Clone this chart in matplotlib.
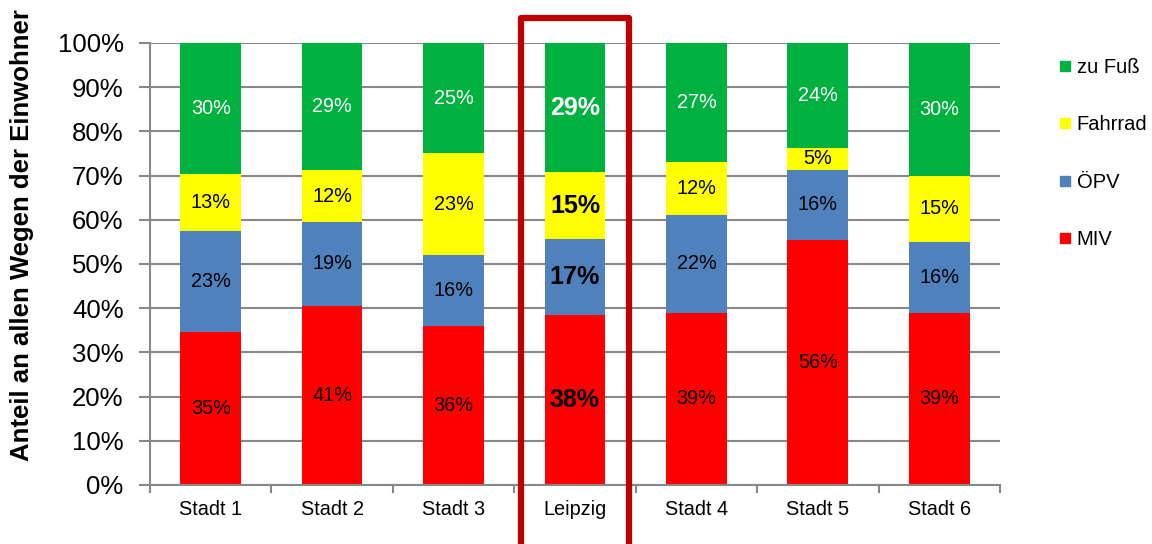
import matplotlib.pyplot as plt
import numpy as np
from matplotlib.lines import Line2D
from matplotlib.patches import Rectangle
from matplotlib.transforms import blended_transform_factory

plt.rcParams['font.family'] = ['Liberation Sans', 'DejaVu Sans']

staedte = ["Stadt 1", "Stadt 2", "Stadt 3", "Leipzig", "Stadt 4", "Stadt 5", "Stadt 6"]
miv = [35, 41, 36, 38, 39, 56, 39]
oepv = [23, 19, 16, 17, 22, 16, 16]
fahrrad = [13, 12, 23, 15, 12, 5, 15]
zu_fuss = [30, 29, 25, 29, 27, 24, 30]

modi = ["MIV", "ÖPV", "Fahrrad", "zu Fuß"]
farben = ["#FF0000", "#4F81BD", "#FFFF00", "#00B140"]
textfarben = ["black", "black", "black", "white"]
hervorheben = "Leipzig"

werte = np.array([miv, oepv, fahrrad, zu_fuss], dtype=float)
anteile = werte / werte.sum(axis=0) * 100  # 100%-Stapel

fig = plt.figure(figsize=(11.52, 5.44), dpi=100)
ax = fig.add_axes([0.1302, 0.1085, 0.868 - 0.1302, 0.921 - 0.1085])

x = np.arange(len(staedte))
unten = np.zeros(len(staedte))
for i in range(len(modi)):
    ax.bar(x, anteile[i], 0.5, bottom=unten, color=farben[i], zorder=2)
    for j in range(len(staedte)):
        fett = staedte[j] == hervorheben
        ax.text(x[j], unten[j] + anteile[i][j] / 2, "%d%%" % werte[i][j],
                ha="center", va="center", color=textfarben[i],
                fontsize=18 if fett else 14.3,
                fontweight="bold" if fett else "normal", zorder=3)
    unten += anteile[i]

ax.set_xlim(-0.5, len(staedte) - 0.5)
ax.set_ylim(0, 100)
ax.set_yticks(np.arange(0, 101, 10))
ax.set_yticklabels(["%d%%" % v for v in range(0, 101, 10)], fontsize=18.5)
ax.set_xticks(x)
ax.set_xticklabels(staedte, fontsize=14.3)
ax.set_xticks(np.arange(-0.5, len(staedte), 1), minor=True)
ax.tick_params(axis="x", which="major", length=0, pad=11)
ax.tick_params(axis="x", which="minor", length=6, color="#888888", width=1.5)
ax.tick_params(axis="y", length=8, color="#888888", width=1.5, pad=11)
ax.yaxis.grid(True, color="#888888", linewidth=1.5, zorder=0)
ax.set_axisbelow(True)
for s in ["top", "right"]:
    ax.spines[s].set_visible(False)
for s in ["left", "bottom"]:
    ax.spines[s].set_color("#888888")
    ax.spines[s].set_linewidth(1.5)

fig.text(0.019, 0.568, "Anteil an allen Wegen der Einwohner", fontsize=18.5,
         fontweight="bold", rotation=90, ha="center", va="center")

# Rahmen um Leipzig
k = staedte.index(hervorheben)
trans = blended_transform_factory(ax.transData, fig.transFigure)
rahmen = Rectangle((k - 0.445, -0.05), 0.89, 0.967 + 0.05, transform=trans,
                   fill=False, edgecolor="#C00000", linewidth=4.5,
                   joinstyle="round", clip_on=False, zorder=5)
fig.add_artist(rahmen)

griffe = [Line2D([0], [0], marker="s", linestyle="", markersize=7.5,
                 color=farben[i]) for i in range(len(modi))]
fig.legend(griffe[::-1], modi[::-1], loc="upper left",
           bbox_to_anchor=(0.912, 0.908), frameon=False, fontsize=14.5,
           handlelength=0.6, handletextpad=0.3, labelspacing=1.9,
           borderaxespad=0)

fig.savefig("out.png", dpi=100)
